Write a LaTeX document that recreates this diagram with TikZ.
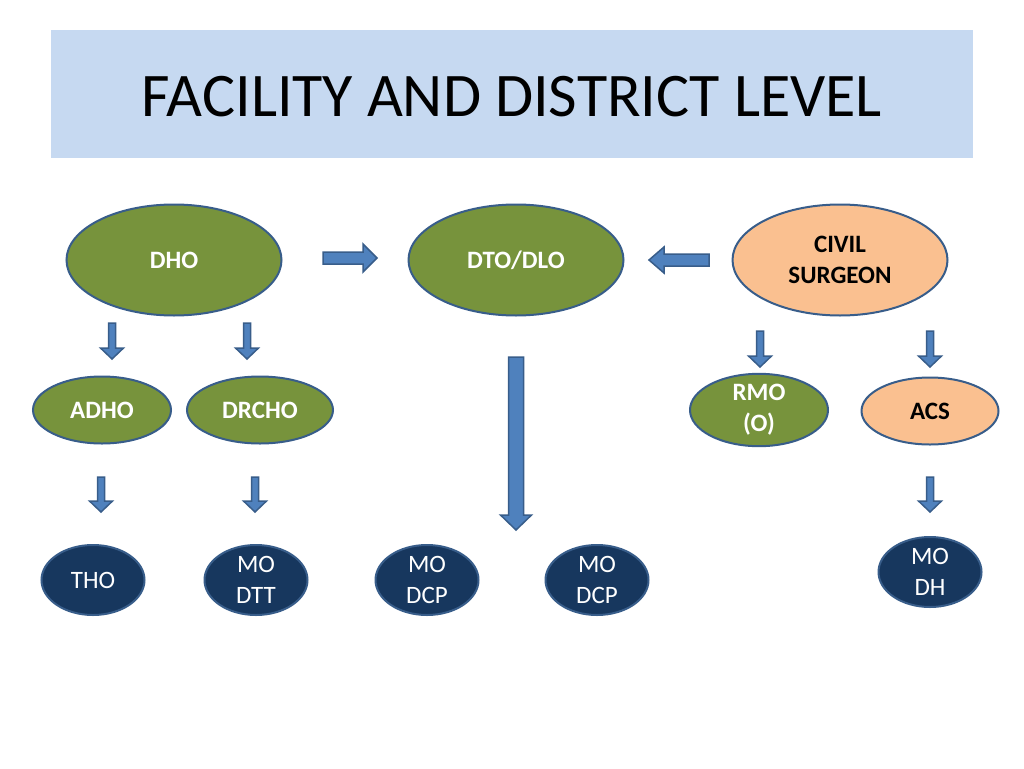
\documentclass[tikz,border=0pt]{standalone}
\usepackage{fontspec}
\setmainfont{Carlito}
\usetikzlibrary{shapes.geometric}
\definecolor{band}{HTML}{C6D9F1}
\definecolor{olive}{HTML}{77933C}
\definecolor{peach}{HTML}{FAC090}
\definecolor{navy}{HTML}{17375E}
\definecolor{edge}{HTML}{385D8A}
\definecolor{arrfill}{HTML}{4F81BD}
\newcommand\darr[6]{% cx, top, tip, shaft half, head half, head length
  \draw[barrow] (#1-#4,#2) -- (#1+#4,#2) -- (#1+#4,#3-#6) -- (#1+#5,#3-#6) -- (#1,#3)
    -- (#1-#5,#3-#6) -- (#1-#4,#3-#6) -- cycle;}
\begin{document}
\begin{tikzpicture}[x=1pt,y=-1pt,
  barrow/.style={fill=arrfill,draw=edge,line width=1.5pt,line join=miter},
  oval/.style={ellipse,draw=edge,line width=2pt,inner sep=0pt,align=center,
    font=\fontsize{25}{31}\selectfont},
  big/.style={oval,minimum width=215pt,minimum height=111pt},
  mid/.style={oval,minimum width=138pt,minimum height=67pt},
  small/.style={oval,minimum width=103pt,minimum height=70pt},
  green/.style={fill=olive,text=white,font=\fontsize{25}{31}\selectfont\bfseries},
  orange/.style={fill=peach,text=black,font=\fontsize{25}{31}\selectfont\bfseries},
  dark/.style={fill=navy,text=white}]
\useasboundingbox (0,0) rectangle (1024,768);
\fill[white] (0,0) rectangle (1024,768);
\node[fill=band,minimum width=922pt,minimum height=128pt,inner sep=0pt] (band) at (512,94) {};
\node[font=\fontsize{62}{70}\selectfont] (title) at (512,97) {FACILITY AND DISTRICT LEVEL};

\node[big,green] (dho) at (174,260) {DHO};
\node[big,green] (dto) at (516,260) {DTO/DLO};
\node[big,orange] (cs) at (840,260) {CIVIL\\SURGEON};

\node[mid,green] (adho) at (102,410) {ADHO};
\node[mid,green,minimum width=146pt] (drcho) at (260,410) {DRCHO};
\node[mid,green,minimum height=65pt] (rmo) at (759,410) {RMO\\(O)};
\node[mid,orange,minimum width=137pt] (acs) at (930,411) {ACS};

\node[small,dark] (tho) at (93,580) {THO};
\node[small,dark] (modtt) at (256,580) {MO\\DTT};
\node[small,dark] (modcp1) at (427,580) {MO\\DCP};
\node[small,dark] (modcp2) at (597,580) {MO\\DCP};
\node[small,dark] (modh) at (930,572) {MO\\DH};

% horizontal block arrows
\draw[barrow] (323,252) -- (363,252) -- (363,244) -- (377,258) -- (363,272) -- (363,264) -- (323,264) -- cycle;
\draw[barrow] (709,254) -- (664,254) -- (664,247) -- (649,260) -- (664,273) -- (664,266) -- (709,266) -- cycle;

% down block arrows
\darr{112}{323}{359}{3.5}{11.5}{11}
\darr{247}{323}{359}{3.5}{11.5}{11}
\darr{760}{331}{367}{3.5}{11.5}{11}
\darr{930}{331}{367}{3.5}{11.5}{11}
\darr{101}{477}{512}{3.5}{11.5}{11}
\darr{255}{477}{512}{3.5}{11.5}{11}
\darr{930}{477}{512}{3.5}{11.5}{11}
\darr{516}{357}{530}{7.5}{15.5}{15}
\end{tikzpicture}
\end{document}
